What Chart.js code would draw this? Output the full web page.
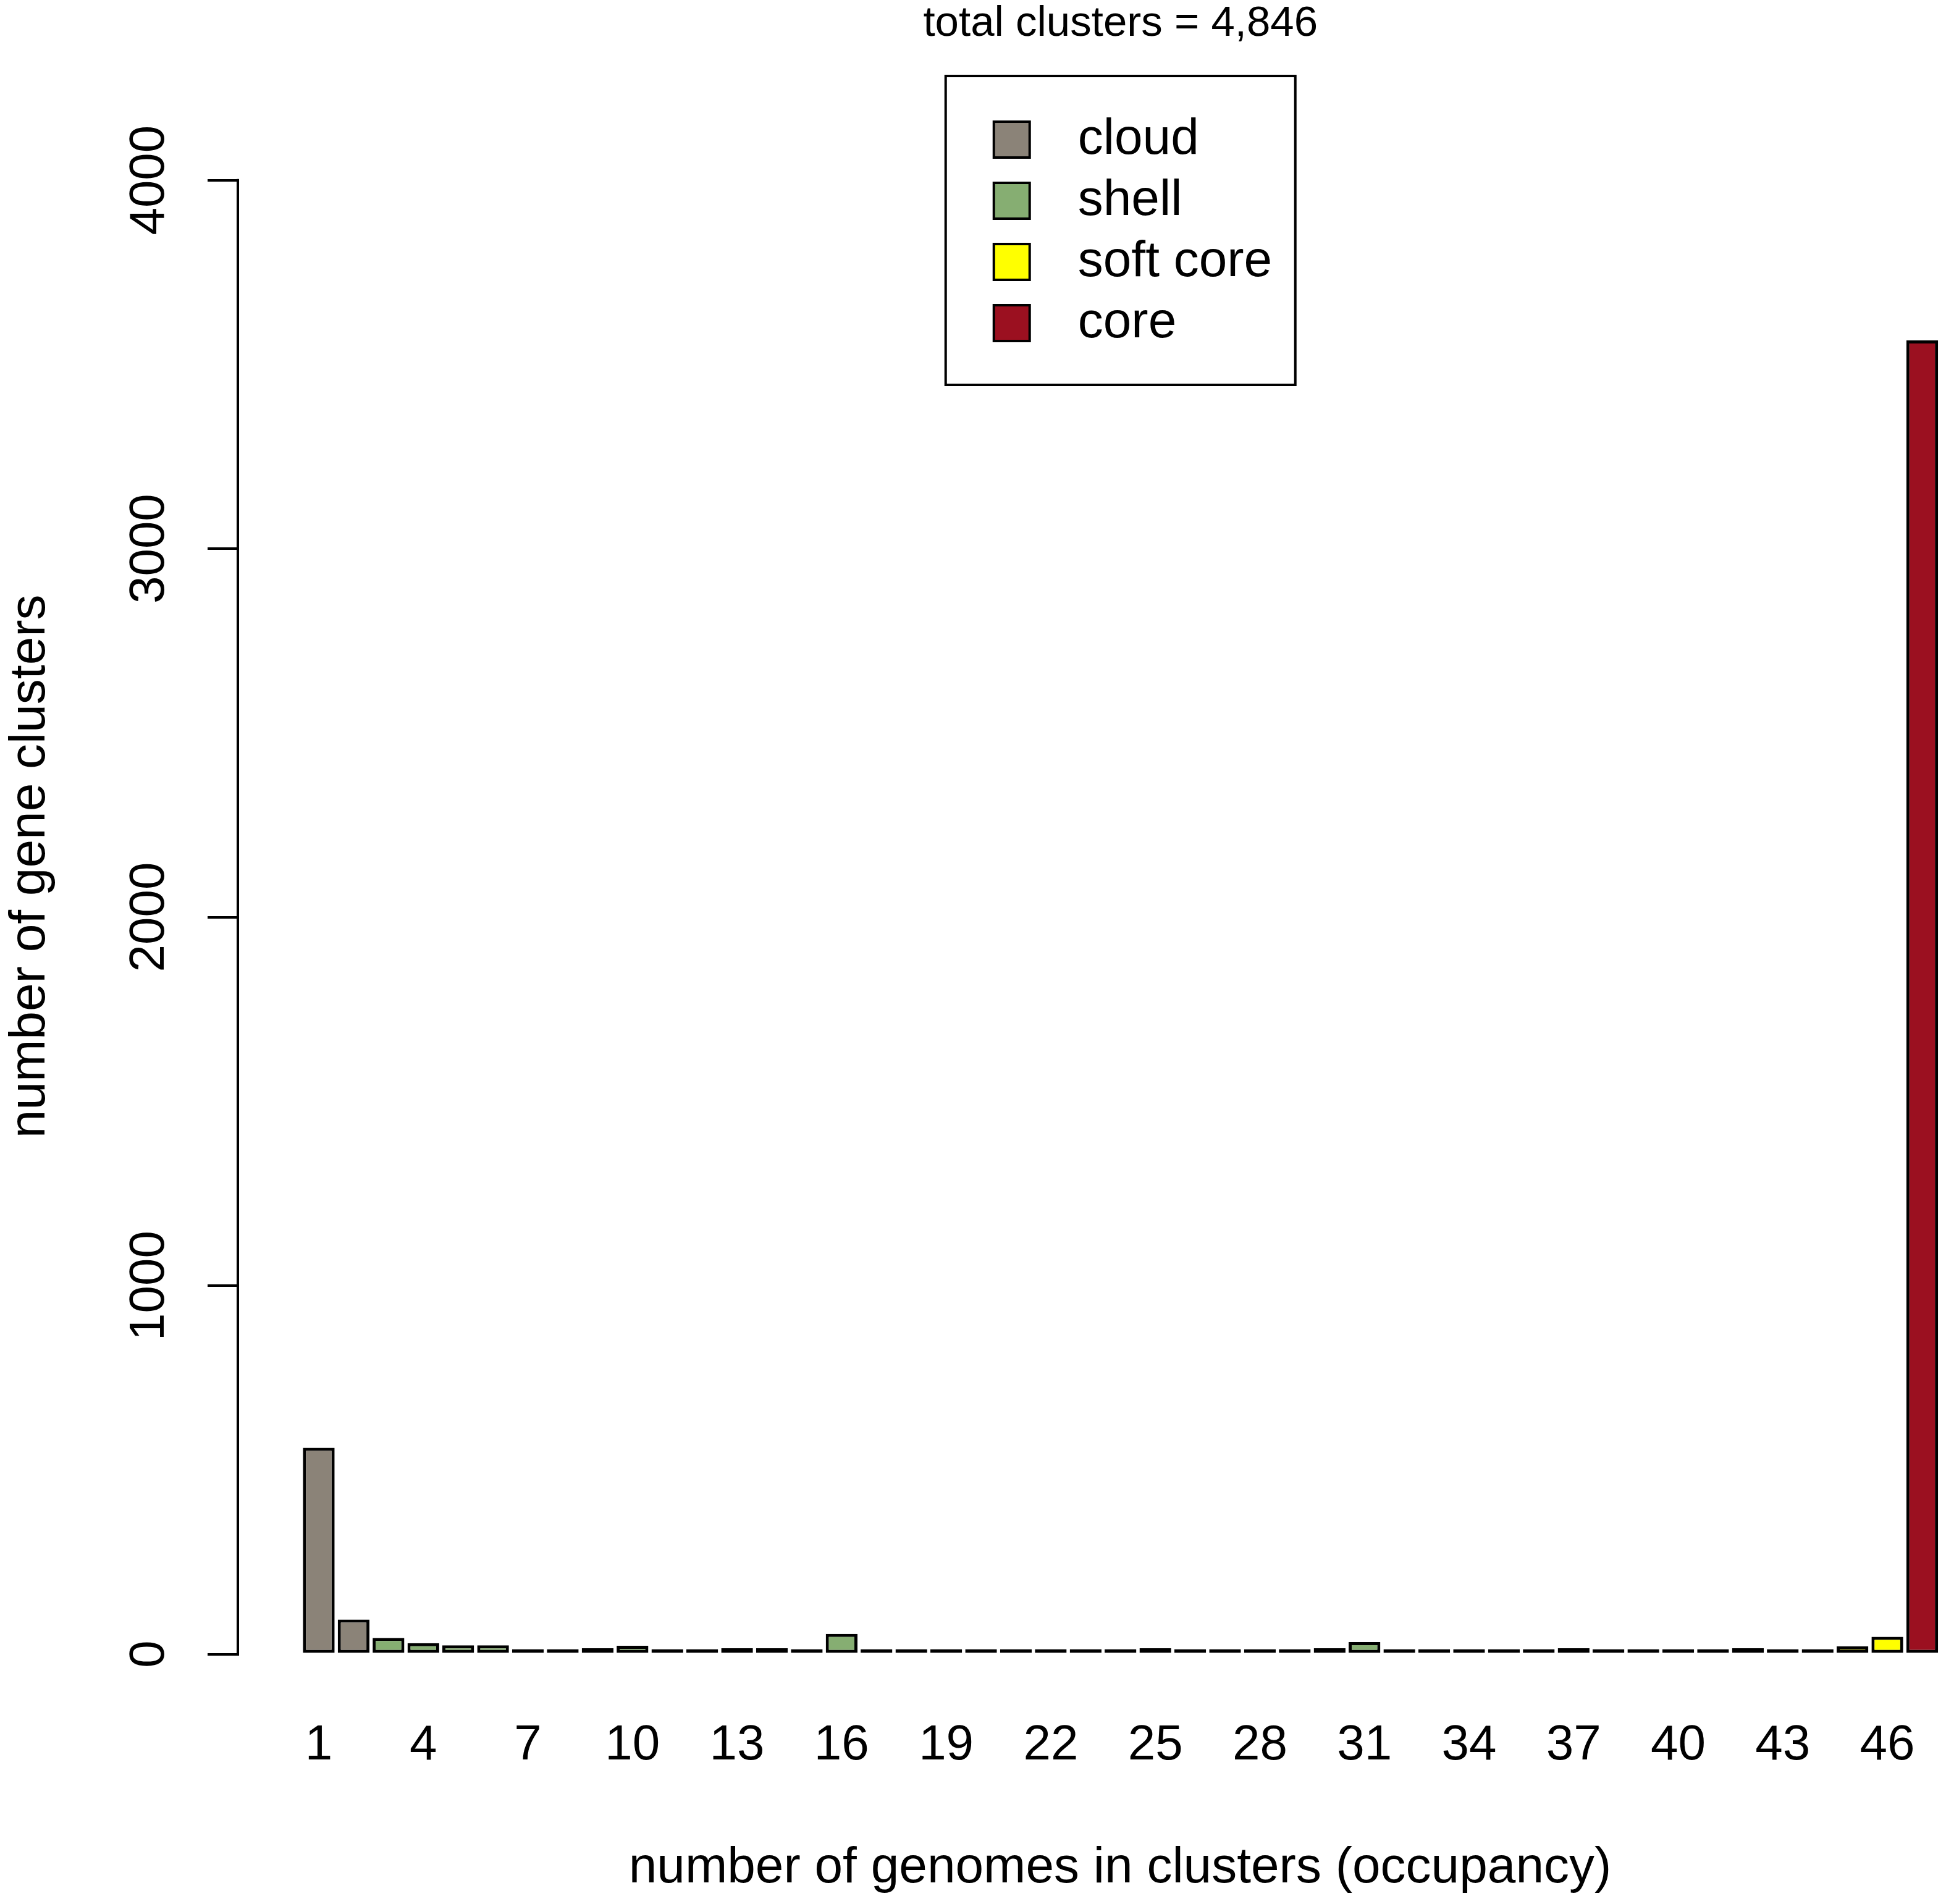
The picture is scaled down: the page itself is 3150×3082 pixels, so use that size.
<!DOCTYPE html>
<html>
<head>
<meta charset="utf-8">
<title>Gene cluster occupancy</title>
<script src="https://cdn.jsdelivr.net/npm/chart.js@4.4.1/dist/chart.umd.min.js"></script>
<style>
    html, body { margin: 0; padding: 0; background: #ffffff; overflow: hidden; }
    /* the plot region runs a little past the right edge, as in the R original */
    #clip { width: 3150px; height: 3082px; overflow: hidden; }
    #wrap { width: 3239px; height: 3082px; }
</style>
</head>
<body>
<div id="clip"><div id="wrap"><canvas id="occupancyChart"></canvas></div></div>
<script>
const chartTitle = 'total clusters = 4,846';
const xAxisTitle = 'number of genomes in clusters (occupancy)';
const yAxisTitle = 'number of gene clusters';

// values
const cloudOccupancy = [1, 2];
const cloudCounts = [560, 94];

const shellOccupancy = [3, 4, 5, 6, 7, 8, 9, 10, 11, 12, 13, 14, 15, 16, 17, 18, 19, 20, 21, 22, 23,
    24, 25, 26, 27, 28, 29, 30, 31, 32, 33, 34, 35, 36, 37, 38, 39, 40, 41, 42, 43, 44];
const shellCounts = [44, 30, 24, 24, 5, 5, 16, 23, 5, 5, 16, 16, 5, 55, 13, 5, 5, 5, 5, 5, 1,
    5, 16, 5, 1, 5, 5, 16, 33, 1, 1, 5, 1, 5, 16, 1, 1, 1, 5, 16, 5, 5];

const softCoreOccupancy = [45, 46];
const softCoreCounts = [21, 47];

const coreOccupancy = [47];
const coreCounts = [3565];

const xTickLabels = [1, 4, 7, 10, 13, 16, 19, 22, 25, 28, 31, 34, 37, 40, 43, 46];
const yTickLabels = [0, 1000, 2000, 3000, 4000];

const fontFamily = '"Liberation Sans", Arial, sans-serif';
Chart.defaults.font.family = fontFamily;
Chart.defaults.color = '#000000';

function toPoints(xs, ys) {
    return xs.map((x, i) => ({ x: x, y: ys[i] }));
}

function barSet(label, xs, ys, color) {
    return {
        label: label,
        data: toPoints(xs, ys),
        backgroundColor: color,
        borderColor: '#000000',
        borderWidth: 5,
        borderSkipped: false,
        grouped: false,
        categoryPercentage: 1.0,
        barPercentage: 0.91,
        minBarLength: 8
    };
}

// y axis line only spans the tick range, like base R
const axisLinePlugin = {
    id: 'axisLine',
    afterDraw(chart) {
        const yScale = chart.scales.y;
        const ctx = chart.ctx;
        const x = chart.chartArea.left - 2;
        ctx.save();
        ctx.strokeStyle = '#000000';
        ctx.lineWidth = 4;
        ctx.beginPath();
        ctx.moveTo(x, yScale.getPixelForValue(yTickLabels[0]) + 2);
        ctx.lineTo(x, yScale.getPixelForValue(yTickLabels[yTickLabels.length - 1]) - 2);
        ctx.stroke();
        ctx.restore();
    }
};

// title and boxed legend, centred over the bars
const headerPlugin = {
    id: 'header',
    afterDraw(chart) {
        const ctx = chart.ctx;
        const xScale = chart.scales.x;
        const cx = (xScale.getPixelForValue(cloudOccupancy[0]) + xScale.getPixelForValue(coreOccupancy[0])) / 2;

        ctx.save();
        ctx.fillStyle = '#000000';
        ctx.font = '69px ' + fontFamily;
        ctx.textAlign = 'center';
        ctx.textBaseline = 'alphabetic';
        ctx.fillText(chartTitle, cx, 58);

        ctx.lineWidth = 4;
        ctx.strokeStyle = '#000000';
        ctx.strokeRect(cx - 283, 123, 566, 500);

        ctx.font = '82px ' + fontFamily;
        ctx.textAlign = 'left';
        ctx.textBaseline = 'middle';
        chart.data.datasets.forEach((ds, i) => {
            const rowY = 226 + i * 99;
            ctx.fillStyle = ds.backgroundColor;
            ctx.fillRect(cx - 205, rowY - 29, 58, 58);
            ctx.strokeRect(cx - 205, rowY - 29, 58, 58);
            ctx.fillStyle = '#000000';
            ctx.fillText(ds.label, cx - 69, rowY);
        });
        ctx.restore();
    }
};

const ctx = document.getElementById('occupancyChart').getContext('2d');
const occupancyChart = new Chart(ctx, {
    type: 'bar',
    data: {
        datasets: [
            barSet('cloud', cloudOccupancy, cloudCounts, '#8B8378'),
            barSet('shell', shellOccupancy, shellCounts, '#86AE72'),
            barSet('soft core', softCoreOccupancy, softCoreCounts, '#FFFF00'),
            barSet('core', coreOccupancy, coreCounts, '#9B1020')
        ]
    },
    options: {
        responsive: true,
        maintainAspectRatio: false,
        devicePixelRatio: 1,
        animation: false,
        layout: {
            padding: { top: 127, left: 0, right: 0, bottom: 0 }
        },
        plugins: {
            legend: { display: false },
            title: { display: false },
            tooltip: { enabled: false }
        },
        scales: {
            x: {
                type: 'linear',
                offset: false,
                bounds: 'data',
                min: -1.2863,
                max: 49.26,
                afterBuildTicks: (scale) => {
                    scale.ticks = xTickLabels.map(v => ({ value: v }));
                },
                ticks: {
                    autoSkip: false,
                    maxRotation: 0,
                    padding: 100,
                    font: { size: 80 },
                    color: '#000000',
                    callback: (value) => String(value)
                },
                grid: { display: false, drawTicks: false, offset: false },
                border: { display: false },
                title: {
                    display: true,
                    text: xAxisTitle,
                    font: { size: 82 },
                    color: '#000000',
                    padding: { top: 2, bottom: 8 }
                }
            },
            y: {
                min: 0,
                max: 4276,
                bounds: 'data',
                afterBuildTicks: (scale) => {
                    scale.ticks = yTickLabels.map(v => ({ value: v }));
                },
                afterFit: (scale) => {
                    scale.width = 387;
                },
                ticks: {
                    minRotation: 90,
                    maxRotation: 90,
                    crossAlign: 'center',
                    padding: 4,
                    font: { size: 80 },
                    color: '#000000',
                    callback: (value) => String(value)
                },
                grid: {
                    display: true,
                    drawOnChartArea: false,
                    drawTicks: true,
                    tickLength: 51,
                    color: '#000000',
                    lineWidth: 4
                },
                border: { display: false },
                title: {
                    display: true,
                    text: yAxisTitle,
                    font: { size: 82 },
                    color: '#000000',
                    padding: { top: 0, bottom: 0 }
                }
            }
        }
    },
    plugins: [axisLinePlugin, headerPlugin]
});
</script>
</body>
</html>
